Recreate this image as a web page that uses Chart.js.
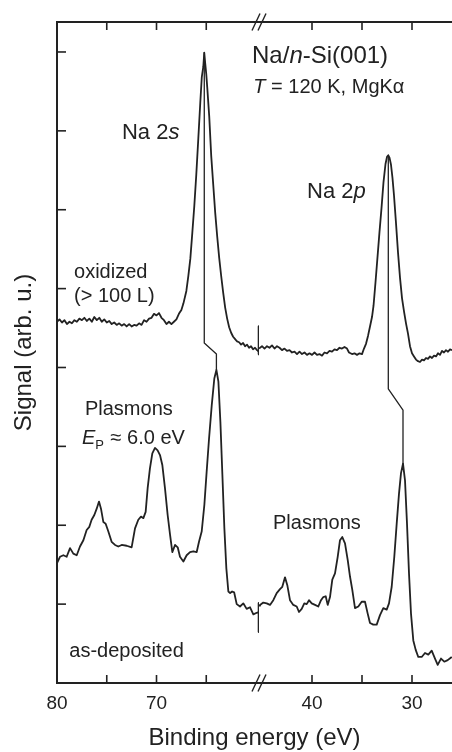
<!DOCTYPE html>
<html>
<head>
<meta charset="utf-8">
<script src="https://cdn.jsdelivr.net/npm/chart.js@4/dist/chart.umd.min.js"></script>
<style>
html,body{margin:0;padding:0;background:#fff;}
#c{display:block;}
</style>
</head>
<body>
<canvas id="c" width="452" height="752" style="width:452px;height:752px"></canvas>
<script>
// ---------- data: [binding energy (eV), signal (arb. u.)] ----------
const oxidizedLeft = [
[80.0,4.58],[79.75,4.61],[79.5,4.57],[79.25,4.60],[79.0,4.55],[78.75,4.58],[78.5,4.56],[78.25,4.60],
[78.0,4.58],[77.75,4.62],[77.5,4.60],[77.25,4.63],[77.0,4.59],[76.75,4.62],[76.5,4.58],[76.25,4.64],
[76.0,4.60],[75.75,4.63],[75.5,4.58],[75.25,4.61],[75.0,4.57],[74.75,4.59],[74.5,4.55],[74.25,4.57],
[74.0,4.54],[73.75,4.56],[73.5,4.53],[73.25,4.55],[73.0,4.52],[72.75,4.55],[72.5,4.52],[72.25,4.54],
[72.0,4.53],[71.75,4.56],[71.5,4.54],[71.25,4.60],[71.0,4.58],[70.75,4.62],[70.5,4.63],[70.25,4.68],
[70.0,4.66],[69.75,4.69],[69.5,4.63],[69.25,4.60],[69.0,4.55],[68.75,4.58],[68.5,4.55],[68.25,4.58],
[68.0,4.61],[67.75,4.68],[67.5,4.73],[67.3,4.81],[67.0,4.97],[66.8,5.16],[66.6,5.38],[66.4,5.71],
[66.2,6.05],[66.0,6.45],[65.8,6.90],[65.6,7.36],[65.45,7.68],[65.3,7.81],[65.2,7.99],[65.1,7.85],
[65.0,7.72],[64.9,7.55],[64.7,7.18],[64.5,6.68],[64.3,6.32],[64.1,5.96],[63.9,5.66],[63.7,5.39],
[63.5,5.16],[63.3,4.95],[63.1,4.76],[62.9,4.62],[62.7,4.51],[62.5,4.44],[62.3,4.39],[62.1,4.36],
[61.9,4.33],[61.7,4.32],[61.5,4.29],[61.3,4.31],[61.1,4.27],[60.9,4.29],[60.7,4.25],[60.5,4.27],
[60.3,4.23],[60.1,4.25],[59.9,4.22],[59.7,4.20]
];
const oxidizedRight = [
[45.3,4.24],[45.0,4.27],[44.75,4.24],[44.5,4.27],[44.25,4.25],[44.0,4.28],[43.75,4.24],[43.5,4.27],
[43.25,4.25],[43.0,4.22],[42.75,4.24],[42.5,4.21],[42.25,4.22],[42.0,4.19],[41.75,4.20],[41.5,4.17],
[41.25,4.20],[41.0,4.17],[40.75,4.19],[40.5,4.16],[40.25,4.18],[40.0,4.16],[39.75,4.19],[39.5,4.16],
[39.25,4.17],[39.0,4.15],[38.75,4.19],[38.5,4.18],[38.25,4.21],[38.0,4.20],[37.75,4.23],[37.5,4.22],
[37.25,4.25],[37.0,4.24],[36.75,4.26],[36.5,4.24],[36.3,4.19],[36.0,4.17],[35.75,4.18],[35.5,4.16],
[35.25,4.18],[35.0,4.17],[34.8,4.24],[34.6,4.30],[34.4,4.40],[34.2,4.52],[34.0,4.64],[33.85,4.78],
[33.65,5.08],[33.45,5.40],[33.25,5.72],[33.05,6.02],[32.85,6.35],[32.65,6.58],[32.5,6.67],[32.37,6.69],
[32.25,6.66],[32.1,6.57],[31.95,6.40],[31.8,6.18],[31.6,5.83],[31.4,5.46],[31.2,5.14],[31.0,4.88],
[30.8,4.71],[30.6,4.56],[30.4,4.43],[30.2,4.27],[30.0,4.18],[29.8,4.14],[29.6,4.10],[29.4,4.08],
[29.2,4.07],[29.0,4.10],[28.8,4.09],[28.6,4.12],[28.4,4.11],[28.2,4.14],[28.0,4.12],[27.8,4.15],
[27.6,4.14],[27.4,4.18],[27.2,4.16],[27.0,4.21],[26.8,4.19],[26.6,4.22],[26.4,4.20],[26.2,4.23],[26.0,4.22]
];
const depositedLeft = [
[80.0,1.52],[79.7,1.60],[79.36,1.62],[79.03,1.60],[78.69,1.71],[78.36,1.64],[78.02,1.62],[77.69,1.73],
[77.35,1.81],[77.02,1.94],[76.75,1.98],[76.52,2.07],[76.25,2.13],[76.01,2.21],[75.78,2.30],[75.58,2.21],
[75.34,2.04],[75.11,2.02],[74.84,1.92],[74.51,1.79],[74.17,1.75],[73.84,1.73],[73.5,1.75],[73.0,1.74],
[72.5,1.72],[72.16,1.96],[71.83,2.07],[71.56,2.11],[71.32,2.09],[71.09,2.17],[70.89,2.47],[70.66,2.72],
[70.42,2.91],[70.15,2.98],[69.89,2.95],[69.65,2.89],[69.41,2.76],[69.15,2.47],[68.88,2.13],[68.64,1.88],
[68.41,1.66],[68.14,1.75],[67.87,1.72],[67.64,1.60],[67.3,1.54],[66.97,1.62],[66.63,1.66],[66.3,1.67],
[65.96,1.66],[65.73,1.79],[65.46,1.92],[65.19,2.26],[64.96,2.68],[64.72,3.10],[64.45,3.52],[64.19,3.86],
[63.98,3.97],[63.78,3.82],[63.58,3.31],[63.38,2.64],[63.18,1.96],[62.98,1.45],[62.78,1.16],[62.6,1.14],
[62.4,1.16],[62.2,1.15],[61.94,1.00],[61.61,0.97],[61.28,1.01],[60.94,0.94],[60.6,0.96],[60.27,0.87],
[59.93,0.89],[59.7,0.90]
];
const depositedRight = [
[45.3,0.98],[45.2,0.99],[44.87,1.02],[44.53,1.01],[44.2,0.99],[43.87,1.05],[43.53,1.14],[43.2,1.19],
[42.97,1.22],[42.7,1.34],[42.47,1.24],[42.2,1.05],[41.87,0.99],[41.53,0.97],[41.3,0.90],[41.03,0.94],
[40.77,1.01],[40.53,1.00],[40.3,1.05],[40.03,1.01],[39.7,0.99],[39.37,0.97],[39.1,1.05],[38.87,1.09],
[38.63,1.10],[38.43,0.99],[38.2,1.09],[37.97,1.31],[37.7,1.39],[37.43,1.60],[37.2,1.81],[36.97,1.85],
[36.7,1.77],[36.43,1.56],[36.2,1.35],[35.97,1.18],[35.7,0.95],[35.37,0.97],[35.03,1.03],[34.7,1.03],
[34.43,0.88],[34.2,0.76],[33.87,0.74],[33.53,0.74],[33.2,0.86],[32.87,0.95],[32.53,0.93],[32.3,1.01],
[32.03,1.22],[31.77,1.60],[31.53,2.02],[31.3,2.40],[31.1,2.66],[30.9,2.78],[30.7,2.57],[30.5,2.02],
[30.3,1.39],[30.1,0.88],[29.87,0.54],[29.63,0.42],[29.37,0.33],[29.03,0.33],[28.7,0.38],[28.37,0.36],
[28.03,0.41],[27.7,0.31],[27.43,0.23],[27.1,0.31],[26.77,0.27],[26.43,0.29],[26.03,0.33]
];
// peak-shift guide lines
const shiftNa2s = [[65.2,7.99],[65.2,4.31],[63.98,4.17],[63.98,3.97]];
const shiftNa2p = [[32.37,6.69],[32.37,3.73],[30.9,3.46],[30.9,2.78]];
// break markers on the curves
const breakOxidized = [[59.7,4.52],[59.7,4.17]];
const breakDeposited = [[59.7,1.01],[59.7,0.65]];
// axes
const leftRange = [59.7, 80];
const rightRange = [26, 45.3];
const leftTicks = [80, 75, 70, 65];
const rightTicks = [40, 35, 30];
const labeledTicks = [80, 70, 40, 30];
const yTicks = [1, 2, 3, 4, 5, 6, 7, 8];
const yRange = [0, 8.38];

// ---------- style ----------
const INK = '#222';
const FAMILY = "'Liberation Sans', Arial, Helvetica, sans-serif";
Chart.defaults.font.family = FAMILY;
Chart.defaults.color = INK;

const toXY = arr => arr.map(p => ({x: p[0], y: p[1]}));
function series(arr, axis, width) {
  return {data: toXY(arr), xAxisID: axis, yAxisID: 'y', borderColor: INK, borderWidth: width,
          pointRadius: 0, pointHoverRadius: 0, tension: 0, fill: false, borderJoinStyle: 'round'};
}

function xAxis(pos, stack, range, ticks, weight, showLabels) {
  return {
    type: 'linear', position: pos, stack: stack, stackWeight: weight,
    min: range[0], max: range[1], reverse: true,
    grid: {display: false, drawTicks: false},
    border: {display: true, color: INK, width: 2},
    ticks: {display: showLabels, autoSkip: false, maxRotation: 0, padding: 8.9, color: INK,
            font: {size: 19},
            callback: v => labeledTicks.includes(v) ? String(v) : ''},
    afterBuildTicks: s => { s.ticks = ticks.map(v => ({value: v})); }
  };
}

const notes = [
  {axis: 'xL', x: 60.40, y: 7.854, size: 24, parts: [{t: 'Na/'}, {t: 'n', it: true}, {t: '-Si(001)'}]},
  {axis: 'xL', x: 60.27, y: 7.483, size: 20, parts: [{t: 'T', it: true}, {t: ' = 120 K, MgK'}, {t: 'α'}]},
  {axis: 'xL', x: 73.47, y: 6.895, size: 22, parts: [{t: 'Na 2'}, {t: 's', it: true}]},
  {axis: 'xR', x: 40.50, y: 6.155, size: 22, parts: [{t: 'Na 2'}, {t: 'p', it: true}]},
  {axis: 'xL', x: 78.29, y: 5.130, size: 20, parts: [{t: 'oxidized'}]},
  {axis: 'xL', x: 78.29, y: 4.830, size: 20, parts: [{t: '(> 100 L)'}]},
  {axis: 'xL', x: 77.19, y: 3.403, size: 20, parts: [{t: 'Plasmons'}]},
  {axis: 'xL', x: 77.49, y: 3.025, size: 20, parts: [{t: 'E', it: true}, {t: 'P', sub: true}, {t: ' ≈ 6.0 eV'}]},
  {axis: 'xR', x: 43.90, y: 1.948, size: 20, parts: [{t: 'Plasmons'}]},
  {axis: 'xL', x: 78.76, y: 0.326, size: 20, parts: [{t: 'as-deposited'}]}
];

const decor = {
  id: 'decor',
  afterDraw(chart) {
    const ctx = chart.ctx, a = chart.chartArea, sc = chart.scales;
    ctx.save();
    ctx.strokeStyle = INK;
    ctx.lineWidth = 1.6;
    const line = (x1, y1, x2, y2) => { ctx.beginPath(); ctx.moveTo(x1, y1); ctx.lineTo(x2, y2); ctx.stroke(); };
    // inward tick marks
    for (const [s, vals] of [[sc.xL, leftTicks], [sc.xR, rightTicks]]) {
      for (const v of vals) {
        const px = s.getPixelForValue(v);
        line(px, a.bottom, px, a.bottom - 8);
        line(px, a.top, px, a.top + 8);
      }
    }
    for (const v of yTicks) {
      const py = sc.y.getPixelForValue(v);
      line(a.left, py, a.left + 9, py);
    }
    // axis break marks
    const bx = sc.xL.right;
    ctx.lineWidth = 1.4;
    for (const cy of [a.top, a.bottom]) {
      for (const dx of [-3, 3]) line(bx + dx - 4, cy + 8.5, bx + dx + 4, cy - 8.5);
    }
    // annotations
    ctx.fillStyle = INK;
    ctx.textAlign = 'left';
    ctx.textBaseline = 'alphabetic';
    for (const n of notes) {
      let x = sc[n.axis].getPixelForValue(n.x);
      const y = sc.y.getPixelForValue(n.y);
      for (const p of n.parts) {
        const fs = p.sub ? Math.round(n.size * 0.65) : n.size;
        ctx.font = (p.it ? 'italic ' : '') + fs + 'px ' + FAMILY;
        ctx.fillText(p.t, x, y + (p.sub ? n.size * 0.25 : 0));
        x += ctx.measureText(p.t).width + (p.sub ? 1 : 0);
      }
    }
    ctx.restore();
  }
};

new Chart(document.getElementById('c'), {
  type: 'line',
  data: {
    datasets: [
      series(oxidizedLeft, 'xL', 1.8),
      series(oxidizedRight, 'xR', 1.8),
      series(depositedLeft, 'xL', 1.8),
      series(depositedRight, 'xR', 1.8),
      series(shiftNa2s, 'xL', 1.3),
      series(shiftNa2p, 'xR', 1.3),
      series(breakOxidized, 'xL', 2.6),
      series(breakDeposited, 'xL', 2.6)
    ]
  },
  options: {
    responsive: false,
    devicePixelRatio: 1,
    animation: false,
    events: [],
    layout: {padding: {top: 22, right: 0, bottom: 0, left: 0}},
    plugins: {
      legend: {display: false},
      tooltip: {enabled: false},
      title: {display: true, position: 'bottom', fullSize: false, text: 'Binding energy (eV)',
              color: INK, font: {size: 24, weight: 'normal', lineHeight: 1}, padding: {top: 3, bottom: 1.4}}
    },
    scales: {
      xL: xAxis('bottom', 'xb', leftRange, leftTicks, 202, true),
      xR: xAxis('bottom', 'xb', rightRange, rightTicks, 193, true),
      xLt: xAxis('top', 'xt', leftRange, leftTicks, 202, false),
      xRt: xAxis('top', 'xt', rightRange, rightTicks, 193, false),
      y: {
        type: 'linear', position: 'left', min: yRange[0], max: yRange[1],
        grid: {display: false, drawTicks: false},
        border: {display: true, color: INK, width: 2},
        ticks: {display: false},
        afterBuildTicks: s => { s.ticks = yTicks.map(v => ({value: v})); },
        title: {display: true, text: 'Signal (arb. u.)', color: INK,
                font: {size: 24, lineHeight: 1}, padding: {top: 12.7, bottom: 20.3}}
      }
    }
  },
  plugins: [decor]
});
</script>
</body>
</html>
